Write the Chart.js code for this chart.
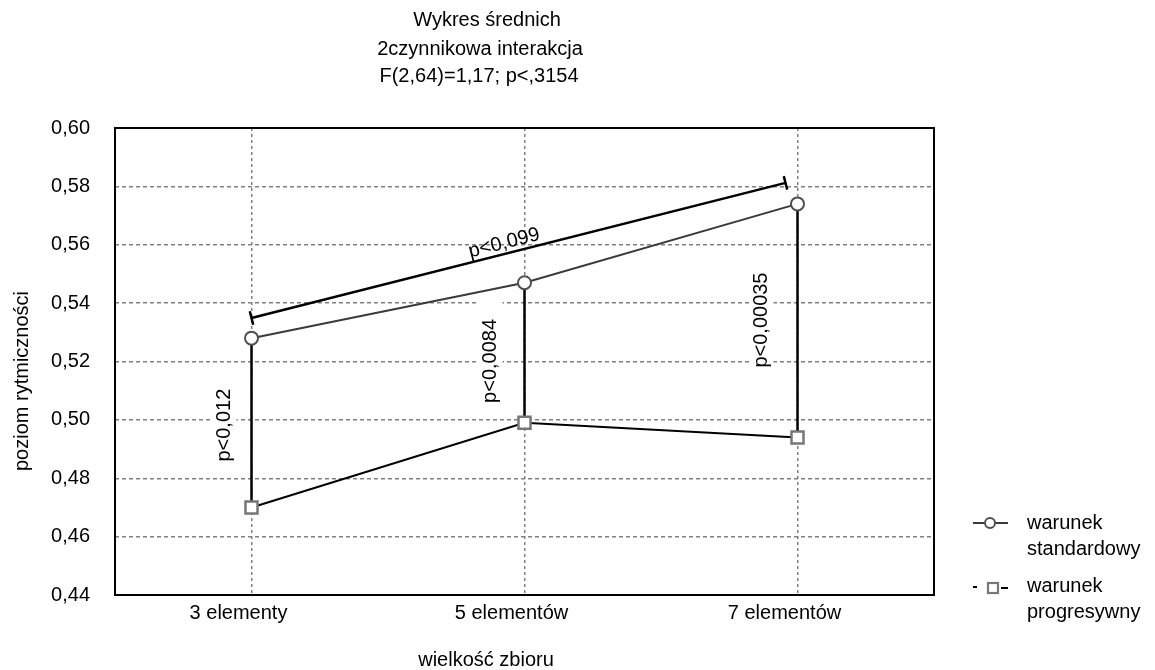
<!DOCTYPE html>
<html>
<head>
<meta charset="utf-8">
<script src="https://cdn.jsdelivr.net/npm/chart.js@4.4.1/dist/chart.umd.min.js"></script>
<style>
html,body{margin:0;padding:0;background:#fff;}
#wrap{width:1155px;height:670px;position:relative;}
</style>
</head>
<body>
<div id="wrap"><canvas id="c" width="1155" height="670"></canvas></div>
<script>
// ---- data ----
const categories = ['3 elementy', '5 elementów', '7 elementów'];
const standardValues = [0.528, 0.547, 0.574];
const progressiveValues = [0.470, 0.499, 0.494];
const seriesNames = ['warunek standardowy', 'warunek progresywny'];
const titleLines = ['Wykres średnich', '2czynnikowa interakcja', 'F(2,64)=1,17; p<,3154'];
const xTitle = 'wielkość zbioru';
const yTitle = 'poziom rytmiczności';
const yMin = 0.44, yMax = 0.60, yStep = 0.02;
// significance annotations (vertical comparisons at each category)
const verticalTests = [
  { cat: 0, label: 'p<0,012', labelAt: 0.4982 },
  { cat: 1, label: 'p<0,0084', labelAt: 0.5202 },
  { cat: 2, label: 'p<0,00035', labelAt: 0.5342 }
];
// bracket comparing 3 vs 7 elements for standard condition
const bracket = { from: 0, to: 2, fromValue: 0.5349, toValue: 0.5812, label: 'p<0,099' };

const FONT = '20px "Liberation Sans", Arial, sans-serif';
const labelDx = [-27, -34, -36];
const labelBoxExtra = [0, 16, 0];

const annot = {
  id: 'annot',
  beforeDatasetsDraw(chart) {
    const { ctx, scales: { x, y } } = chart;
    ctx.save();
    verticalTests.forEach((t, i) => {
      const px = x.getPixelForValue(t.cat);
      ctx.beginPath();
      ctx.strokeStyle = '#000';
      ctx.lineWidth = 2.5;
      ctx.moveTo(px, y.getPixelForValue(standardValues[t.cat]));
      ctx.lineTo(px, y.getPixelForValue(progressiveValues[t.cat]));
      ctx.stroke();
      ctx.save();
      ctx.translate(px + labelDx[i], y.getPixelForValue(t.labelAt));
      ctx.rotate(-Math.PI / 2);
      ctx.font = FONT;
      const w = ctx.measureText(t.label).width;
      ctx.fillStyle = '#fff';
      ctx.fillRect(-w / 2 - 3, -12, w + 6 + labelBoxExtra[i], 24);
      ctx.fillStyle = '#000';
      ctx.textAlign = 'center';
      ctx.textBaseline = 'middle';
      ctx.fillText(t.label, 0, 0);
      ctx.restore();
    });
    ctx.restore();
  },
  afterDatasetsDraw(chart) {
    const { ctx, scales: { x, y } } = chart;
    ctx.save();
    const x0 = x.getPixelForValue(bracket.from), y0 = y.getPixelForValue(bracket.fromValue);
    const x1 = x.getPixelForValue(bracket.to) - 12, y1 = y.getPixelForValue(bracket.toValue);
    const ang = Math.atan2(y1 - y0, x1 - x0);
    const nx = Math.sin(ang), ny = -Math.cos(ang);
    ctx.strokeStyle = '#000';
    ctx.lineWidth = 2.5;
    ctx.beginPath();
    ctx.moveTo(x0, y0); ctx.lineTo(x1, y1);
    [[x0, y0], [x1, y1]].forEach(([px, py]) => {
      ctx.moveTo(px - nx * 7, py - ny * 7);
      ctx.lineTo(px + nx * 7, py + ny * 7);
    });
    ctx.stroke();
    const t = 0.478;
    const lx = x0 + (x1 - x0) * t + nx * 5, ly = y0 + (y1 - y0) * t + ny * 5;
    ctx.translate(lx, ly);
    ctx.rotate(ang);
    ctx.font = FONT;
    ctx.fillStyle = '#000';
    ctx.textAlign = 'center';
    ctx.textBaseline = 'alphabetic';
    ctx.fillText(bracket.label, 0, 0);
    ctx.restore();
  },
  afterDraw(chart) {
    const { ctx, chartArea: a } = chart;
    ctx.save();
    ctx.strokeStyle = '#000';
    ctx.lineWidth = 2;
    ctx.strokeRect(a.left, a.top, a.right - a.left, a.bottom - a.top);
    ctx.font = FONT;
    ctx.fillStyle = '#000';
    ctx.textBaseline = 'alphabetic';
    ctx.textAlign = 'center';
    const tb = [26, 54.5, 82];
    const tx = [487, 480, 479];
    titleLines.forEach((s, i) => ctx.fillText(s, tx[i], tb[i]));
    ctx.fillText(xTitle, 486, 666);
    ctx.save();
    ctx.translate(28, 381);
    ctx.rotate(-Math.PI / 2);
    ctx.fillText(yTitle, 0, 0);
    ctx.restore();
    ctx.textAlign = 'left';
    const s0 = seriesNames[0].split(' '), s1 = seriesNames[1].split(' ');
    ctx.fillText(s0[0], 1027, 529);
    ctx.fillText(s0[1], 1027, 555);
    ctx.fillText(s1[0], 1027, 592);
    ctx.fillText(s1[1], 1027, 618);
    ctx.strokeStyle = '#3a3a3a';
    ctx.lineWidth = 2;
    ctx.beginPath(); ctx.moveTo(973, 523); ctx.lineTo(1008, 523); ctx.stroke();
    ctx.beginPath(); ctx.arc(990, 523, 5, 0, Math.PI * 2);
    ctx.fillStyle = '#fff'; ctx.fill();
    ctx.strokeStyle = '#505050'; ctx.stroke();
    ctx.strokeStyle = '#000';
    ctx.beginPath(); ctx.moveTo(973, 587); ctx.lineTo(977, 587); ctx.moveTo(1001, 588); ctx.lineTo(1008, 588); ctx.stroke();
    ctx.fillStyle = '#fff';
    ctx.fillRect(988, 583, 10, 10);
    ctx.strokeStyle = '#777'; ctx.lineWidth = 2.2;
    ctx.strokeRect(988, 583, 10, 10);
    ctx.restore();
  }
};

new Chart(document.getElementById('c'), {
  type: 'line',
  data: {
    labels: categories,
    datasets: [
      {
        label: seriesNames[0],
        data: standardValues,
        borderColor: '#3a3a3a',
        borderWidth: 2,
        pointStyle: 'circle',
        pointRadius: 6.5,
        pointBorderWidth: 2,
        pointBorderColor: '#505050',
        pointBackgroundColor: '#fff',
        tension: 0
      },
      {
        label: seriesNames[1],
        data: progressiveValues,
        borderColor: '#000',
        borderWidth: 2,
        pointStyle: 'rect',
        pointRadius: 8.5,
        pointBorderWidth: 2.5,
        pointBorderColor: '#777',
        pointBackgroundColor: '#fff',
        tension: 0
      }
    ]
  },
  options: {
    responsive: false,
    animation: false,
    devicePixelRatio: 1,
    layout: { padding: { top: 128, right: 221, left: 0, bottom: 0 } },
    plugins: { legend: { display: false }, title: { display: false }, tooltip: { enabled: false } },
    scales: {
      x: {
        type: 'category',
        offset: true,
        afterFit(s) { s.height = 75; },
        grid: { color: '#808080', lineWidth: 1.5, drawTicks: false, offset: false },
        border: { display: false, dash: [3, 3] },
        ticks: { color: '#000', font: { family: '"Liberation Sans", Arial, sans-serif', size: 20 }, padding: 6, labelOffset: -13, maxRotation: 0 }
      },
      y: {
        min: yMin,
        max: yMax,
        afterFit(s) { s.width = 115; },
        grid: { color: '#808080', lineWidth: 1.5, drawTicks: false },
        border: { display: false, dash: [4, 3] },
        ticks: {
          stepSize: yStep,
          color: '#000',
          padding: 25,
          font: { family: '"Liberation Sans", Arial, sans-serif', size: 20 },
          callback: v => v.toFixed(2).replace('.', ',')
        }
      }
    }
  },
  plugins: [annot]
});
</script>
</body>
</html>
